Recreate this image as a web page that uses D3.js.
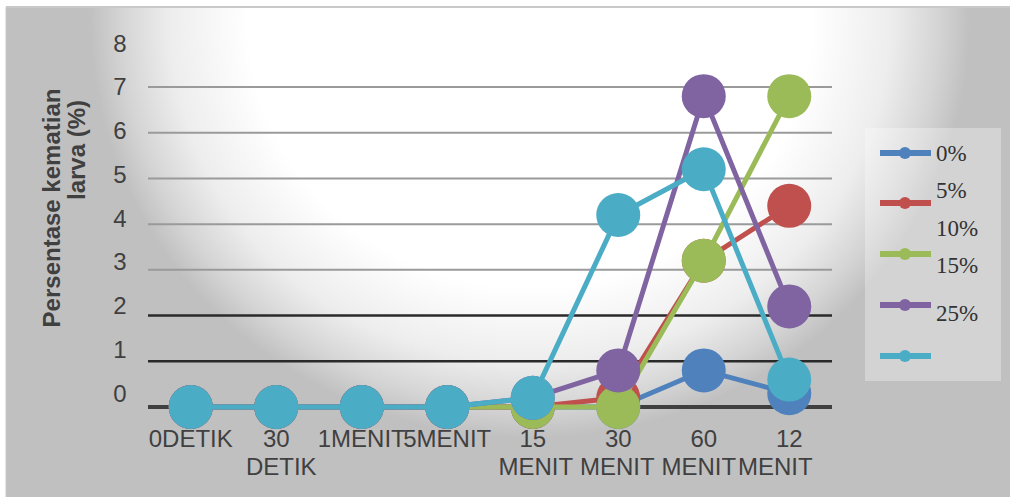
<!DOCTYPE html>
<html><head><meta charset="utf-8">
<script src="https://cdn.jsdelivr.net/npm/d3@7/dist/d3.min.js"></script>
<style>html,body{margin:0;padding:0;background:#fff;}svg{display:block;}</style>
</head><body>
<script>
const categories = [["0DETIK"],["30","DETIK"],["1MENIT"],["5MENIT"],["15","MENIT"],["30","MENIT"],["60","MENIT"],["12","MENIT"]];
const seriesNames = ["0%","5%","10%","15%","25%"];
const seriesColors = ["#4F81BD","#C0504D","#9BBB59","#8064A2","#4BACC6"];
const s0 = [0,0,0,0,0,0,0.8,0.3];
const s5 = [0,0,0,0,0,0.2,3.2,4.4];
const s10 = [0,0,0,0,0,0,3.2,6.8];
const s15 = [0,0,0,0,0.2,0.8,6.8,2.2];
const s25 = [0,0,0,0,0.2,4.2,5.2,0.6];
const seriesValues = [s0,s5,s10,s15,s25];
const yTicks = [0,1,2,3,4,5,6,7,8];
const gridValues = [1,2,3,4,5,6,7];
const yTitle = ["Persentase kematian","larva (%)"];

// layout tweaks (not data): horizontal nudge of the second label line
const line2Nudge = [0,5,0,0,3,-1,-5,-14];

const W=1010,H=497;
const svg=d3.select("body").append("svg").attr("width",W).attr("height",H);
const defs=svg.append("defs");
const rg=defs.append("radialGradient").attr("id","bg").attr("gradientUnits","userSpaceOnUse")
  .attr("cx",530).attr("cy",20).attr("r",440).attr("fx",530).attr("fy",20)
  .attr("gradientTransform","translate(530,20) scale(1,0.95) translate(-530,-20)");
[[0,"#ffffff"],[0.64,"#ffffff"],[0.82,"#ededed"],[0.93,"#d4d4d4"],[1,"#c0c0c0"]].forEach(s=>rg.append("stop").attr("offset",s[0]).attr("stop-color",s[1]));

svg.append("rect").attr("x",6).attr("y",7).attr("width",W-6).attr("height",H-7).attr("fill","#c0c0c0");
svg.append("rect").attr("x",6).attr("y",7).attr("width",W-6).attr("height",H-7).attr("fill","url(#bg)");
svg.append("line").attr("x1",6).attr("x2",W).attr("y1",7).attr("y2",7).attr("stroke","#c8c8c8").attr("stroke-width",2);
svg.append("line").attr("x1",6).attr("x2",6).attr("y1",7).attr("y2",H).attr("stroke","#c8c8c8").attr("stroke-width",1);

const x=d3.scalePoint().domain(d3.range(categories.length)).range([148,832]).padding(0.5);
const y=d3.scaleLinear().domain([0,8]).range([407,41.3]);
const yLab=d3.scaleLinear().domain([0,8]).range([393,43]);

// gridlines
svg.append("g").selectAll("line").data(gridValues).join("line")
  .attr("x1",148).attr("x2",832).attr("y1",d=>y(d)).attr("y2",d=>y(d))
  .attr("stroke",d=>d<=2?"#2a2a2a":"#9a9a9a").attr("stroke-width",d=>d<=2?2.5:2);
svg.append("line").attr("x1",148).attr("x2",832).attr("y1",y(0)).attr("y2",y(0)).attr("stroke","#404040").attr("stroke-width",4);

// y tick labels
svg.append("g").selectAll("text").data(yTicks).join("text")
  .attr("x",120).attr("y",d=>yLab(d)).attr("dy","0.36em").attr("text-anchor","middle")
  .attr("font-family","Liberation Sans, Arial, sans-serif").attr("font-size",24).attr("fill","#404040").text(d=>d);

// y title
svg.append("text").attr("transform","translate(60,208) rotate(-90)").attr("text-anchor","middle")
  .attr("font-family","Liberation Sans, Arial, sans-serif").attr("font-size",24).attr("font-weight","bold").attr("fill","#404040").text(yTitle[0]);
svg.append("text").attr("transform","translate(85,150) rotate(-90)").attr("text-anchor","middle")
  .attr("font-family","Liberation Sans, Arial, sans-serif").attr("font-size",24).attr("font-weight","bold").attr("fill","#404040").text(yTitle[1]);

// x labels
const xl=svg.append("g").selectAll("text").data(categories).join("text")
  .attr("text-anchor","middle").attr("font-family","Liberation Sans, Arial, sans-serif").attr("font-size",24).attr("fill","#404040");
xl.each(function(d,i){
  const t=d3.select(this);
  d.forEach((ln,j)=>t.append("tspan").attr("x",x(i)+(j>0?line2Nudge[i]:0)).attr("y",447+j*28).text(ln));
});

// series
const line=d3.line().x((d,i)=>x(i)).y(d=>y(d));
seriesValues.forEach((vals,k)=>{
  const g=svg.append("g");
  g.append("path").attr("d",line(vals)).attr("fill","none").attr("stroke",seriesColors[k]).attr("stroke-width",5).attr("stroke-linejoin","round");
  g.selectAll("circle").data(vals).join("circle").attr("cx",(d,i)=>x(i)).attr("cy",d=>y(d)).attr("r",22).attr("fill",seriesColors[k]);
});

// legend
svg.append("rect").attr("x",865).attr("y",128).attr("width",136).attr("height",253).attr("fill","#fff").attr("fill-opacity",0.3);
const swY=[153,203,254,305,356];
const labY=[161,198,236,273,321];
seriesNames.forEach((n,k)=>{
  svg.append("line").attr("x1",880).attr("x2",931).attr("y1",swY[k]).attr("y2",swY[k]).attr("stroke",seriesColors[k]).attr("stroke-width",6);
  svg.append("circle").attr("cx",905).attr("cy",swY[k]).attr("r",6).attr("fill",seriesColors[k]);
  svg.append("text").attr("x",936).attr("y",labY[k]).attr("font-family","Liberation Serif, Times New Roman, serif").attr("font-size",23).attr("fill","#333").text(n);
});
</script>
</body></html>
